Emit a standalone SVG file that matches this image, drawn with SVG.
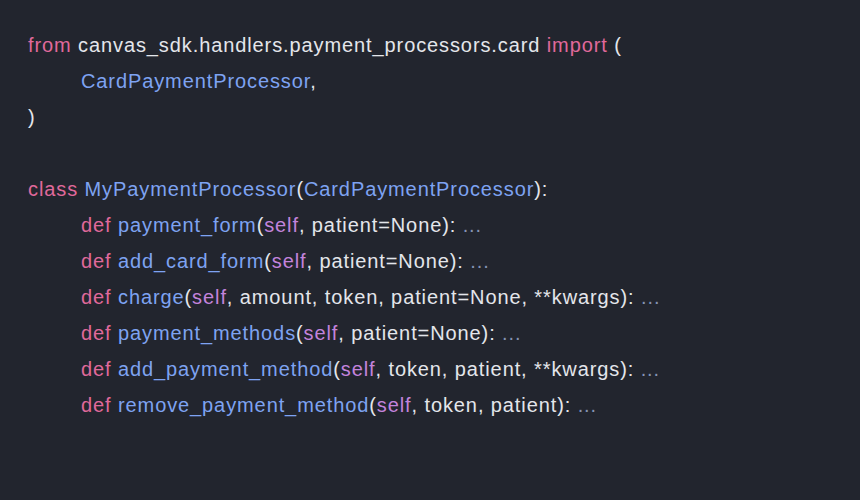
<svg xmlns="http://www.w3.org/2000/svg" width="860" height="500" viewBox="0 0 860 500">
<style>
text{font-family:"Liberation Sans",Arial,sans-serif;font-size:20px;letter-spacing:0.9px;fill:#e4e6eb;white-space:pre}
.k{fill:#e0699b}.f{fill:#7ea3f2}.s{fill:#c383dc}.e{fill:#8593b4}
</style>
<rect width="860" height="500" fill="#22252e"/>
<text x="28" y="52"><tspan class="k">from</tspan> canvas_sdk.handlers.payment_processors.card <tspan class="k">import</tspan> (</text>
<text x="81" y="88"><tspan class="f">CardPaymentProcessor</tspan>,</text>
<text x="28" y="124">)</text>
<text x="28" y="196"><tspan class="k">class</tspan> <tspan class="f">MyPaymentProcessor</tspan>(<tspan class="f">CardPaymentProcessor</tspan>):</text>
<text x="81" y="232"><tspan class="k">def</tspan> <tspan class="f">payment_form</tspan>(<tspan class="s">self</tspan>, patient=None): <tspan class="e">...</tspan></text>
<text x="81" y="268"><tspan class="k">def</tspan> <tspan class="f">add_card_form</tspan>(<tspan class="s">self</tspan>, patient=None): <tspan class="e">...</tspan></text>
<text x="81" y="304"><tspan class="k">def</tspan> <tspan class="f">charge</tspan>(<tspan class="s">self</tspan>, amount, token, patient=None, **kwargs): <tspan class="e">...</tspan></text>
<text x="81" y="340"><tspan class="k">def</tspan> <tspan class="f">payment_methods</tspan>(<tspan class="s">self</tspan>, patient=None): <tspan class="e">...</tspan></text>
<text x="81" y="376"><tspan class="k">def</tspan> <tspan class="f">add_payment_method</tspan>(<tspan class="s">self</tspan>, token, patient, **kwargs): <tspan class="e">...</tspan></text>
<text x="81" y="412"><tspan class="k">def</tspan> <tspan class="f">remove_payment_method</tspan>(<tspan class="s">self</tspan>, token, patient): <tspan class="e">...</tspan></text>
</svg>
